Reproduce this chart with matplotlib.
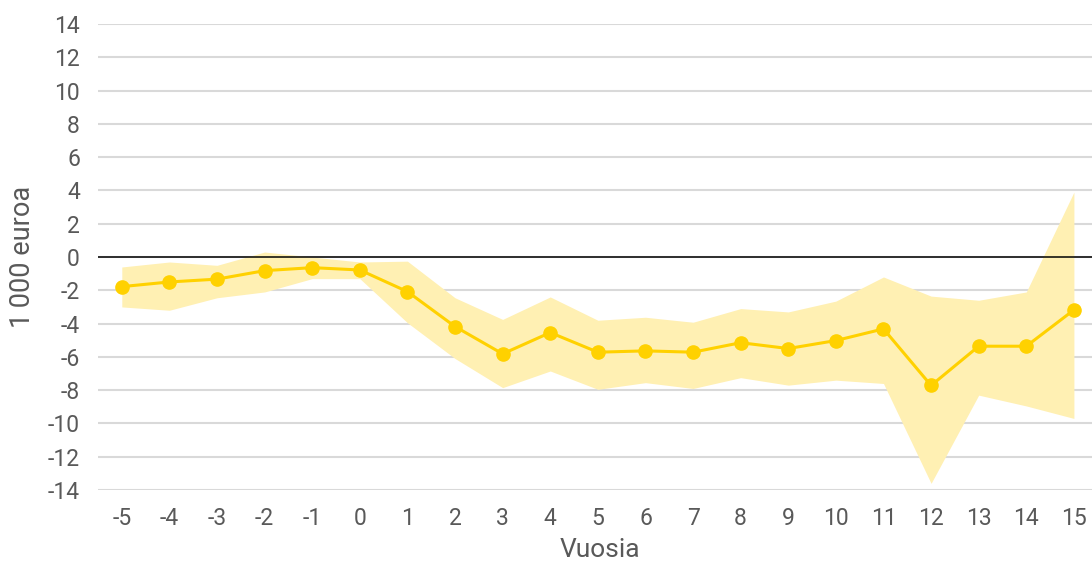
import matplotlib
matplotlib.use("Agg")
import matplotlib.pyplot as plt

years = list(range(-5, 16))
estimate = [-1.78, -1.5, -1.33, -0.82, -0.64, -0.78, -2.08, -4.18, -5.82, -4.54,
            -5.72, -5.64, -5.72, -5.15, -5.5, -5.02, -4.32, -7.72, -5.36, -5.36, -3.18]
upper = [-0.6, -0.3, -0.5, 0.3, 0.0, -0.3, -0.25, -2.45, -3.75, -2.4,
         -3.8, -3.62, -3.92, -3.1, -3.3, -2.65, -1.2, -2.35, -2.6, -2.1, 3.9]
lower = [-3.0, -3.2, -2.45, -2.1, -1.3, -1.3, -3.95, -6.1, -7.85, -6.85,
         -7.95, -7.55, -7.9, -7.25, -7.7, -7.4, -7.6, -13.6, -8.3, -8.95, -9.7]
yticks = list(range(-14, 15, 2))

plt.rcParams['font.family'] = ['Roboto', 'DejaVu Sans']
plt.rcParams['axes.unicode_minus'] = False
text_col = '#595959'

fig = plt.figure(figsize=(10.92, 5.64), dpi=100)
ax = fig.add_axes([98 / 1092, 1 - 490 / 564, 1 - 98 / 1092, (490 - 24) / 564])

ax.fill_between(years, lower, upper, color='#FFF0B3', linewidth=0, zorder=1)
ax.plot(years, estimate, color='#FFD100', linewidth=2.2, marker='o',
        markersize=9.5, zorder=3)
ax.axhline(0, color='black', linewidth=1.1, zorder=2)

ax.set_xlim(-5.5, 15.38)
ax.set_ylim(-14, 14)
ax.set_xticks(years)
ax.set_xticklabels([str(y) for y in years])
ax.set_yticks(yticks)
ax.grid(axis='y', color='#D9D9D9', linewidth=1.5, zorder=0)
ax.set_axisbelow(True)
for s in ax.spines.values():
    s.set_visible(False)
ax.tick_params(length=0, labelsize=16.5, labelcolor=text_col)
ax.tick_params(axis='x', pad=12)
ax.tick_params(axis='y', pad=13)

ax.set_xlabel('Vuosia', fontsize=19, color=text_col, va='center')
ax.xaxis.set_label_coords((600 - 98) / 994, (490 - 550) / 466)
ax.set_ylabel('1\u2009000 euroa', fontsize=19.5, color=text_col, va='center')
ax.yaxis.set_label_coords((23 - 98) / 994, 0.5)

fig.savefig('out.png', dpi=100)
